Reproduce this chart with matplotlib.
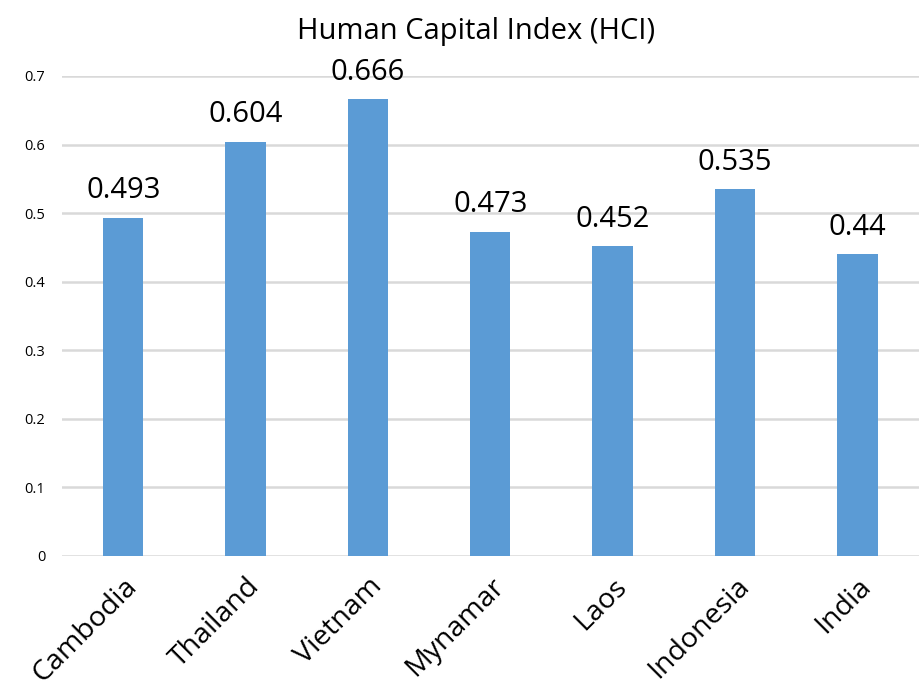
import matplotlib.pyplot as plt
import numpy as np

plt.rcParams['font.family'] = ['Open Sans', 'DejaVu Sans']

countries = ['Cambodia', 'Thailand', 'Vietnam', 'Mynamar', 'Laos', 'Indonesia', 'India']
hci = [0.493, 0.604, 0.666, 0.473, 0.452, 0.535, 0.44]
value_labels = ['0.493', '0.604', '0.666', '0.473', '0.452', '0.535', '0.44']
yticks = [0, 0.1, 0.2, 0.3, 0.4, 0.5, 0.6, 0.7]

BAR_COLOR = '#5B9BD5'
GRID_COLOR = '#D9D9D9'

fig = plt.figure(figsize=(9.19, 6.94), dpi=100)
ax = fig.add_axes([0.0675, 0.199, 0.932, 0.6915])

x = np.arange(len(countries))
rects = ax.bar(x, hci, width=0.33, color=BAR_COLOR, zorder=2)

ax.set_xlim(-0.5, len(countries) - 0.5)
ax.set_ylim(0, 0.7)
ax.set_yticks(yticks)
ax.set_yticklabels([f"{t:g}" for t in yticks], fontsize=10.5)
ax.yaxis.grid(True, color=GRID_COLOR, linewidth=1.8, zorder=0)
ax.tick_params(axis='both', length=0)
ax.tick_params(axis='y', pad=12)

ax.set_xticks(x)
ax.set_xticklabels(countries, rotation=45, ha='right', rotation_mode='anchor', fontsize=20.5)
ax.tick_params(axis='x', pad=12)

for s in ax.spines.values():
    s.set_visible(False)

for rect, lab in zip(rects, value_labels):
    ax.annotate(lab, (rect.get_x() + rect.get_width() / 2, rect.get_height()),
                xytext=(0, 9), textcoords='offset points', ha='center', va='bottom',
                fontsize=21, annotation_clip=False)

fig.text(0.518, 0.955, 'Human Capital Index (HCI)', ha='center', va='center', fontsize=21)

fig.savefig('out.png', dpi=100)
